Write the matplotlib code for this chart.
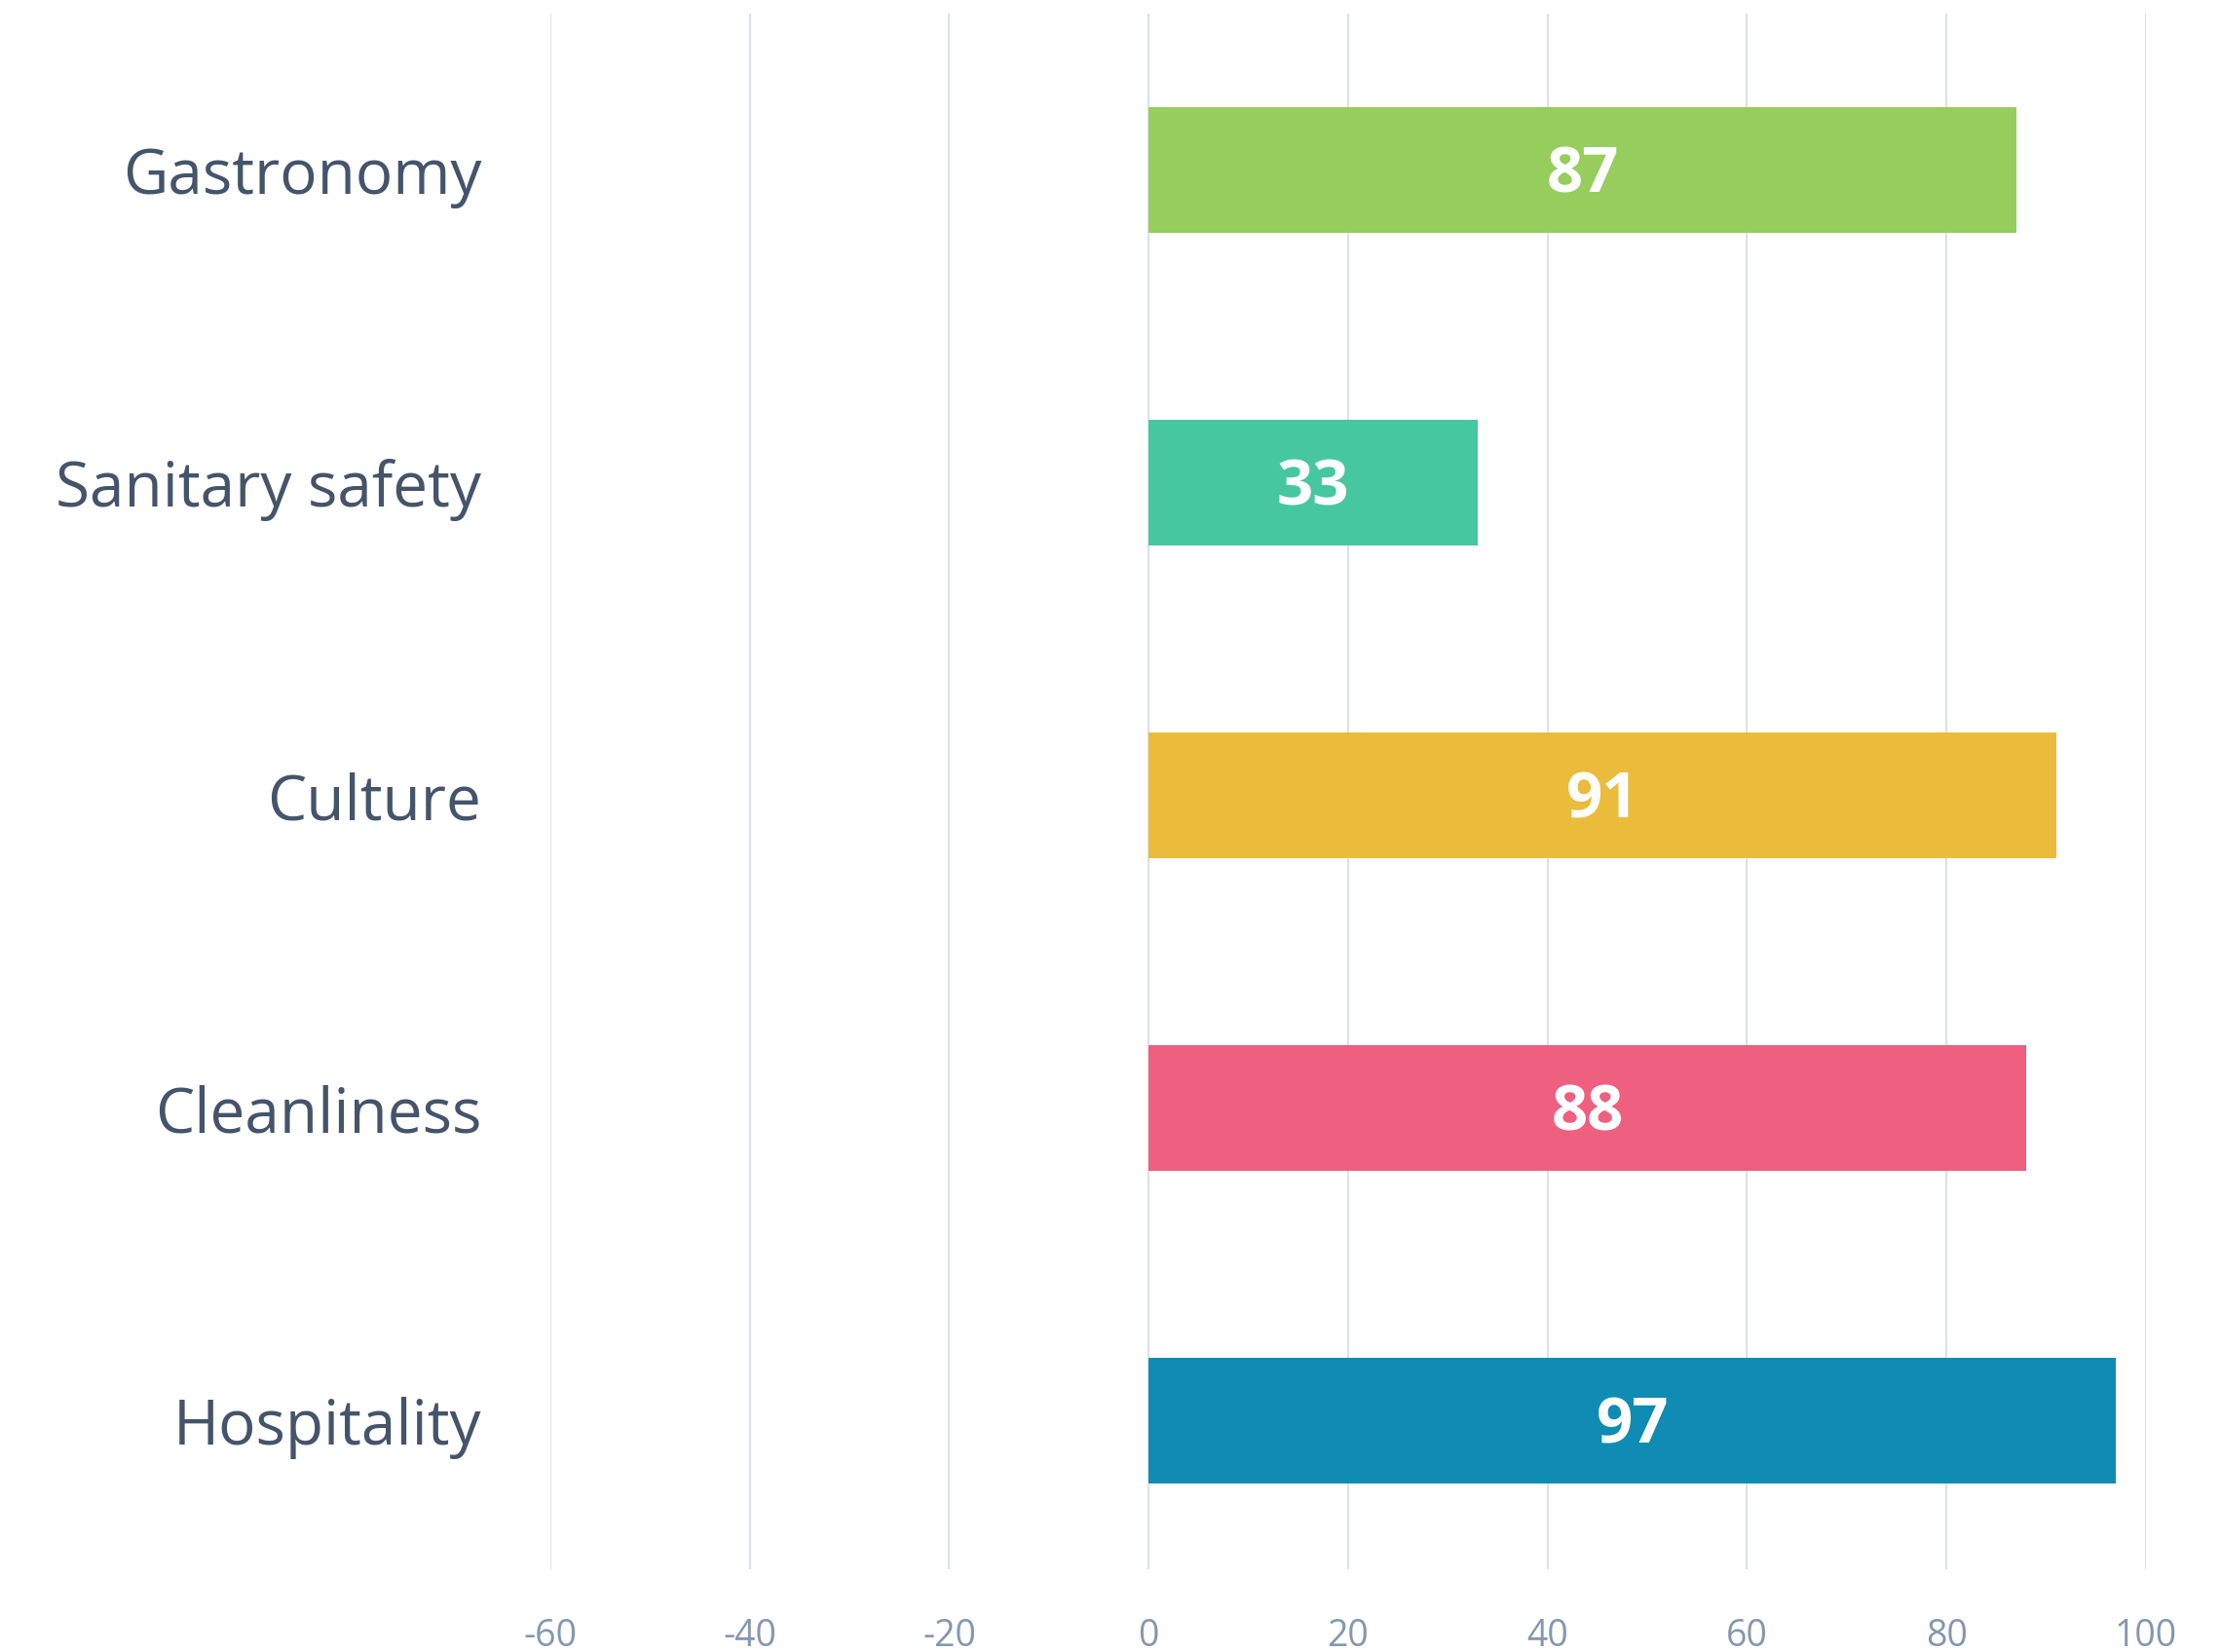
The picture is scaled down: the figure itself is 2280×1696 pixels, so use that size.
import matplotlib.pyplot as plt
import numpy as np

# data
categories = ['Gastronomy', 'Sanitary safety', 'Culture', 'Cleanliness', 'Hospitality']
scores = [87, 33, 91, 88, 97]
bar_colors = ['#96CD5D', '#46C79F', '#EBBB3B', '#EF5F80', '#108BB3']
x_ticks = [-60, -40, -20, 0, 20, 40, 60, 80, 100]

plt.rcParams['font.family'] = ['Open Sans', 'DejaVu Sans']

fig = plt.figure(figsize=(22.8, 16.96), dpi=100)
ax = fig.add_axes([0.2478, 0.0501, 0.9662 - 0.2478, 0.9917 - 0.0501])

pos = np.arange(len(categories))
bars = ax.barh(pos, scores, height=0.4, color=bar_colors, zorder=3)

# value labels in the middle of each bar
for b, v in zip(bars, scores):
    ax.text(b.get_x() + b.get_width() / 2, b.get_y() + b.get_height() / 2 + 0.02,
            str(v), ha='center', va='center', color='white',
            fontsize=47, fontweight='bold', zorder=4)

ax.set_xlim(-60, 100)
ax.set_ylim(len(categories) - 0.525, -0.5)
ax.set_xticks(x_ticks)
ax.set_xticklabels([str(t) for t in x_ticks])
ax.set_yticks(pos)
ax.set_yticklabels(categories)

ax.tick_params(axis='x', length=0, pad=36, labelsize=27, labelcolor='#8497B0')
ax.tick_params(axis='y', length=0, pad=51, labelsize=46, labelcolor='#44546A')

#vertical grid only
ax.grid(axis='x', color='#DDE1E8', linewidth=1.5, zorder=0)
ax.grid(axis='y', visible=False)
for s in ax.spines.values():
    s.set_visible(False)

fig.savefig('out.png', dpi=100, facecolor='white')
